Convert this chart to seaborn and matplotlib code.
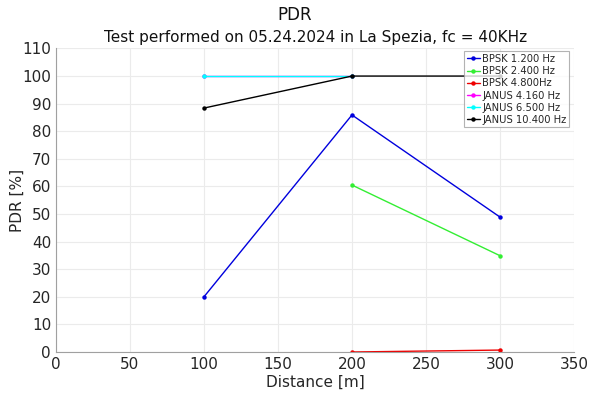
import matplotlib
matplotlib.use("Agg")
import matplotlib.pyplot as plt
import seaborn as sns
import pandas as pd
import numpy as np

sns.set_style("white")
plt.rcParams['font.family'] = ['DejaVu Sans']

distance = [100, 200, 300]
series_names = ["BPSK 1.200 Hz", "BPSK 2.400 Hz", "BPSK 4.800Hz",
                "JANUS 4.160 Hz", "JANUS 6.500 Hz", "JANUS 10.400 Hz"]
bpsk_1200 = [20.0, 85.9, 48.9]
bpsk_2400 = [np.nan, 60.5, 34.9]
bpsk_4800 = [np.nan, 0.0, 0.7]
janus_4160 = [100.0, 100.0, np.nan]
janus_6500 = [100.0, 100.0, np.nan]
janus_10400 = [88.4, 100.0, 100.0]
colors = ["#0000dd", "#33ee33", "#ee0000", "#ff00ff", "#00ffff", "#000000"]

values = [bpsk_1200, bpsk_2400, bpsk_4800, janus_4160, janus_6500, janus_10400]
rows = []
for name, vals in zip(series_names, values):
    for d, v in zip(distance, vals):
        if not np.isnan(v):
            rows.append({"Distance": d, "PDR": v, "Series": name})
df = pd.DataFrame(rows)

fig = plt.figure(figsize=(5.89, 3.94), dpi=100)
ax = fig.add_axes([0.095, 0.1066, 0.8795, 0.7704])

sns.lineplot(data=df, x="Distance", y="PDR", hue="Series", hue_order=series_names,
             palette=colors, marker="o", markersize=3.2, markeredgewidth=0,
             linewidth=1.0, ax=ax, sort=False, estimator=None)

ax.set_xlim(0, 350)
ax.set_ylim(0, 110)
ax.set_xticks(np.arange(0, 351, 50))
ax.set_yticks(np.arange(0, 111, 10))
ax.grid(True, color="#ebebeb", linewidth=0.8)
ax.set_axisbelow(True)
for s in ["top", "right"]:
    ax.spines[s].set_visible(False)
for s in ["left", "bottom"]:
    ax.spines[s].set_color("#a0a0a0")
    ax.spines[s].set_linewidth(0.8)
ax.tick_params(direction="in", length=3, color="#a0a0a0", labelsize=11,
               labelcolor="#262626", width=0.8)
ax.set_xlabel("Distance [m]", fontsize=11, color="#262626", labelpad=2)
ax.set_ylabel("PDR [%]", fontsize=11, color="#262626", labelpad=-2)

fig.text(0.5, 0.962, "PDR", ha="center", va="center", fontsize=12, color="#111111")
fig.text(0.535, 0.905, "Test performed on 05.24.2024 in La Spezia, fc = 40KHz",
         ha="center", va="center", fontsize=11, color="#111111")

leg = ax.legend(loc="upper right", bbox_to_anchor=(0.99, 0.99), fontsize=7.2,
                frameon=True, fancybox=False, borderpad=0.25, labelspacing=0.22,
                handlelength=1.3, handletextpad=0.25, borderaxespad=0)
leg.get_frame().set_edgecolor("#a0a0a0")
leg.get_frame().set_linewidth(0.8)
for line in leg.get_lines():
    line.set_linewidth(1.0)

fig.savefig("out.png", dpi=100)
